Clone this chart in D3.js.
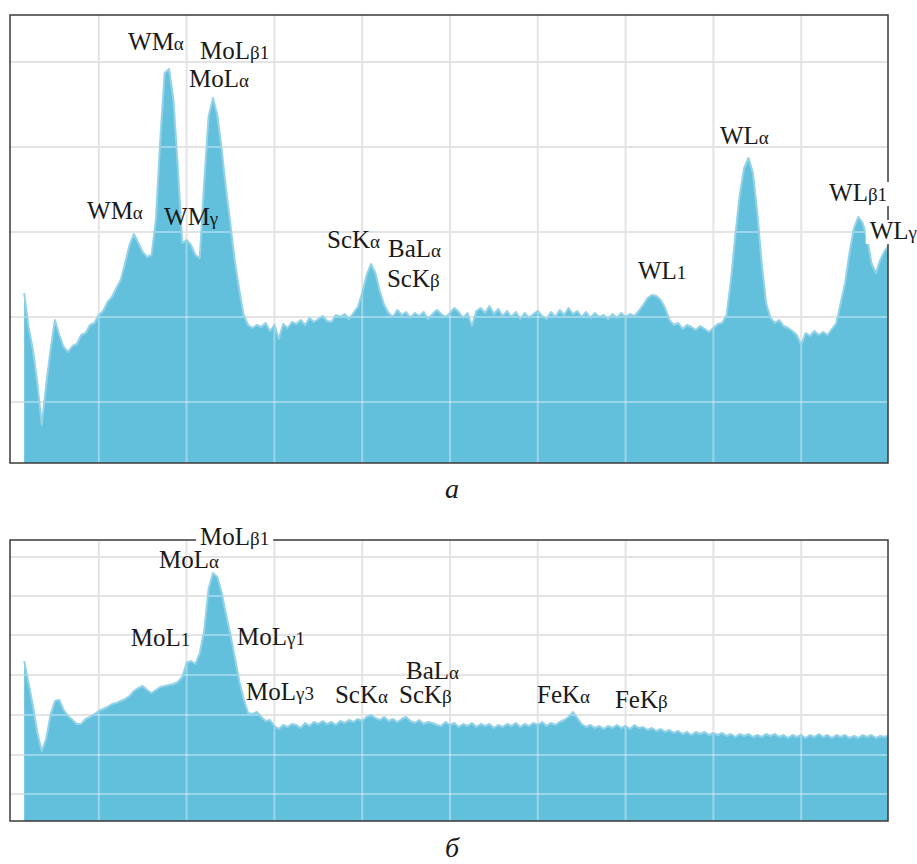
<!DOCTYPE html>
<html>
<head>
<meta charset="utf-8">
<script src="https://cdnjs.cloudflare.com/ajax/libs/d3/7.8.5/d3.min.js"></script>
<style>
  body { margin: 0; background: #fff; }
  .label { font-family: "Liberation Serif", "Times New Roman", serif; fill: #1a1a1a; }
  .caption { font-family: "Liberation Serif", "Times New Roman", serif; font-style: italic; fill: #1a1a1a; }
</style>
</head>
<body>
<script>
// spectra channels, keV (first channel and width)
var firstKeV = 0.15;
var stepKeV = 0.05;

// spectrum (a), counts per channel, 0.15 .. 10.00 keV
var countsA = [
  170, 136, 113, 80, 38, 78, 113, 143, 128, 116,
  111, 117, 119, 128, 130, 138, 140, 148, 152, 161,
  166, 175, 183, 200, 218, 229, 220, 211, 206, 208,
  243, 323, 390, 394, 363, 296, 220, 223, 218, 208,
  205, 280, 346, 365, 348, 313, 273, 238, 201, 173,
  148, 138, 135, 138, 136, 140, 132, 138, 124, 139,
  135, 141, 139, 143, 138, 145, 141, 144, 147, 142,
  141, 148, 146, 149, 144, 150, 156, 170, 188, 199,
  190, 172, 158, 150, 146, 153, 148, 151, 145, 150,
  147, 151, 144, 149, 153, 149, 146, 150, 155, 151,
  145, 150, 137, 152, 155, 150, 157, 149, 154, 147,
  152, 146, 151, 144, 150, 145, 149, 152, 147, 144,
  151, 146, 153, 148, 155, 149, 152, 146, 151, 145,
  150, 146, 148, 144, 149, 145, 150, 146, 149, 147,
  152, 158, 165, 168, 167, 163, 155, 143, 138, 140,
  134, 138, 136, 133, 137, 134, 131, 135, 139, 140,
  148, 183, 228, 268, 295, 305, 290, 250, 200, 160,
  145, 140, 143, 137, 135, 132, 128, 118, 130, 127,
  132, 128, 131, 128, 134, 140, 160, 180, 210, 235,
  246, 240, 225, 200, 190, 203, 212, 218
];

// spectrum (б), counts per channel, 0.15 .. 10.00 keV
var countsB = [
  160, 138, 115, 88, 70, 82, 106, 120, 121, 111,
  105, 101, 97, 97, 102, 104, 107, 110, 112, 114,
  117, 118, 120, 122, 125, 130, 133, 135, 131, 128,
  131, 134, 135, 136, 137, 139, 144, 158, 160, 157,
  168, 190, 232, 248, 244, 228, 206, 186, 163, 140,
  122, 108, 107, 109, 104, 100, 101, 95, 92, 96,
  94, 97, 96, 93, 98, 95, 99, 97, 100, 97,
  99, 96, 100, 98, 101, 99, 102, 100, 104, 106,
  103, 101, 104, 100, 102, 99, 102, 104, 100, 98,
  101, 97, 99, 98, 96, 95, 99, 96, 98, 94,
  97, 95, 98, 94, 97, 95, 97, 93, 96, 94,
  97, 95, 98, 94, 97, 95, 98, 96, 99, 95,
  98, 96, 99, 101, 104, 109, 103, 97, 94, 96,
  93, 95, 92, 95, 93, 96, 93, 95, 92, 96,
  93, 94, 91, 93, 90, 92, 89, 91, 88, 90,
  87, 89, 86, 89, 87, 89, 86, 88, 86, 88,
  85, 87, 84, 87, 85, 87, 84, 86, 84, 87,
  85, 87, 84, 86, 83, 86, 84, 86, 83, 86,
  84, 87, 84, 86, 83, 86, 84, 86, 83, 85,
  83, 86, 84, 86, 83, 85, 84, 86
];

// grid: every 1 keV, and count levels of each panel
var gridKeV = [1, 2, 3, 4, 5, 6, 7, 8, 9];
var gridCountsA = [61, 146, 231, 316, 401];
var gridCountsB = [27, 66, 106, 146, 186, 225, 264];

// line labels (element, line, keV and count where the text sits)
var labelsA = [
  {t: "WM", s: "α", e: 1.333, v: 413},
  {t: "MoL", s: "β1", e: 2.153, v: 404},
  {t: "MoL", s: "α", e: 2.027, v: 376},
  {t: "WM", s: "α", e: 0.866, v: 244},
  {t: "WM", s: "γ", e: 1.743, v: 238},
  {t: "ScK", s: "α", e: 3.599, v: 215},
  {t: "BaL", s: "α", e: 4.294, v: 206},
  {t: "ScK", s: "β", e: 4.282, v: 176},
  {t: "WL", s: "1", e: 7.141, v: 184},
  {t: "WL", s: "α", e: 8.075, v: 319},
  {t: "WL", s: "β1", e: 9.317, v: 262, knockout: true},
  {t: "WL", s: "γ", e: 9.780, v: 224, knockout: true}
];
var labelsB = [
  {t: "MoL", s: "β1", e: 2.153, v: 276, knockout: true},
  {t: "MoL", s: "α", e: 1.686, v: 253},
  {t: "MoL", s: "1", e: 1.363, v: 175},
  {t: "MoL", s: "γ1", e: 2.574, v: 176},
  {t: "MoL", s: "γ3", e: 2.677, v: 121},
  {t: "ScK", s: "α", e: 3.690, v: 118},
  {t: "ScK", s: "β", e: 4.419, v: 118},
  {t: "BaL", s: "α", e: 4.499, v: 142},
  {t: "FeK", s: "α", e: 5.991, v: 118},
  {t: "FeK", s: "β", e: 6.879, v: 113}
];

var width = 917, height = 864;

var svg = d3.select("body")
            .append("svg")
            .attr("width", width)
            .attr("height", height);

var x = d3.scaleLinear()
          .domain([0, 10])
          .range([11, 889]);

drawPanel({
  id: "a",
  counts: countsA,
  labels: labelsA,
  grid: gridCountsA,
  y: d3.scaleLinear().domain([0, 448]).range([463, 15]),
  caption: "а",
  captionY: 498
});

drawPanel({
  id: "b",
  counts: countsB,
  labels: labelsB,
  grid: gridCountsB,
  y: d3.scaleLinear().domain([0, 281]).range([821, 540]),
  caption: "б",
  captionY: 857
});

function drawPanel(p) {
  var y = p.y;
  var top = y.range()[1], bottom = y.range()[0];
  var left = 10, right = 888;

  var data = p.counts.map(function(c, i) {
    return {e: firstKeV + i * stepKeV, c: c};
  });

  var g = svg.append("g").attr("class", "panel-" + p.id);

  // clip everything to the frame
  g.append("clipPath")
   .attr("id", "frame-" + p.id)
   .append("rect")
   .attr("x", left)
   .attr("y", top)
   .attr("width", right - left)
   .attr("height", bottom - top);

  var area = d3.area()
               .x(function(d) { return x(d.e); })
               .y0(bottom)
               .y1(function(d) { return y(d.c); });

  var edge = d3.line()
               .x(function(d) { return x(d.e); })
               .y(function(d) { return y(d.c); });

  // area shape also used as a clip for the light grid over the fill
  g.append("clipPath")
   .attr("id", "fill-" + p.id)
   .append("path")
   .attr("d", area(data));

  var inner = g.append("g").attr("clip-path", "url(#frame-" + p.id + ")");

  // grid on the white background
  drawGrid(inner, y, p.grid, left, right, top, bottom, "#e4e4e4", 1);

  inner.append("path")
       .datum(data)
       .attr("class", "spectrum")
       .attr("d", area)
       .style("fill", "#63c0dd");

  // lighter grid lines seen through the fill
  var over = inner.append("g").attr("clip-path", "url(#fill-" + p.id + ")");
  drawGrid(over, y, p.grid, left, right, top, bottom, "#ffffff", 0.35);

  // soft noise fringe on top of the counts
  inner.append("path")
       .datum(data)
       .attr("d", edge)
       .style("fill", "none")
       .style("stroke", "#94d2e7")
       .style("stroke-width", 2)
       .style("stroke-linejoin", "round");

  // frame
  g.append("rect")
   .attr("x", left)
   .attr("y", top)
   .attr("width", right - left)
   .attr("height", bottom - top)
   .style("fill", "none")
   .style("stroke", "#3a3a3a")
   .style("stroke-width", 1.5);

  // peak labels
  p.labels.forEach(function(d) {
    var lg = g.append("g");
    var text = lg.append("text")
                 .attr("class", "label")
                 .attr("x", x(d.e))
                 .attr("y", y(d.v));
    text.append("tspan")
        .style("font-size", "25px")
        .text(d.t);
    text.append("tspan")
        .style("font-size", "19px")
        .text(d.s);

    if (d.knockout) {
      var b = text.node().getBBox();
      lg.insert("rect", "text")
        .attr("x", b.x - 4)
        .attr("y", b.y + 3)
        .attr("width", b.width + 8)
        .attr("height", b.height - 3)
        .style("fill", "#ffffff");
    }
  });

  svg.append("text")
     .attr("class", "caption")
     .attr("x", 452)
     .attr("y", p.captionY)
     .attr("text-anchor", "middle")
     .style("font-size", "28px")
     .text(p.caption);
}

function drawGrid(sel, y, levels, left, right, top, bottom, colour, opacity) {
  sel.selectAll("line.gx")
     .data(gridKeV)
     .enter().append("line")
     .attr("class", "gx")
     .attr("x1", function(d) { return x(d); })
     .attr("x2", function(d) { return x(d); })
     .attr("y1", top)
     .attr("y2", bottom)
     .style("stroke", colour)
     .style("stroke-opacity", opacity)
     .style("stroke-width", 2);

  sel.selectAll("line.gy")
     .data(levels)
     .enter().append("line")
     .attr("class", "gy")
     .attr("x1", left)
     .attr("x2", right)
     .attr("y1", function(d) { return y(d); })
     .attr("y2", function(d) { return y(d); })
     .style("stroke", colour)
     .style("stroke-opacity", opacity)
     .style("stroke-width", 2);
}
</script>
</body>
</html>
